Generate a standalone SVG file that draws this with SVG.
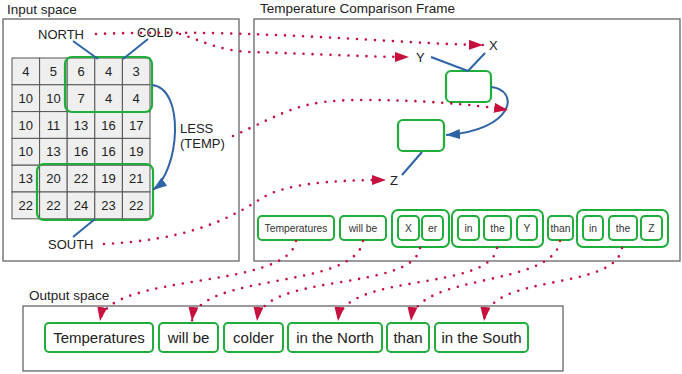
<svg xmlns="http://www.w3.org/2000/svg" width="682" height="374" viewBox="0 0 682 374">
<style>
text{font-family:"Liberation Sans",Arial,sans-serif;fill:#222}
.panel{fill:#fff;stroke:#666;stroke-width:1.3}
.title{font-size:13.5px}
.cell{fill:#efefef;stroke:#555;stroke-width:1}
.num{font-size:13px;text-anchor:middle}
.lbl{font-size:13px}
.grn{fill:none;stroke:#1fae3a;stroke-width:2.2}
.wbox{fill:#fff;stroke:#1fae3a;stroke-width:2}
.w{font-size:10.3px;text-anchor:middle;fill:#333}
.ow{font-size:15px;text-anchor:middle}
.blue{fill:none;stroke:#2e64a6;stroke-width:2}
.dot{fill:none;stroke:#c8103e;stroke-width:2.6;stroke-dasharray:0 9;stroke-linecap:round}
</style>
<defs>
<marker id="ra" viewBox="0 0 14 10" refX="14" refY="5" markerWidth="14" markerHeight="10" markerUnits="userSpaceOnUse" orient="auto"><path d="M0,0 L14,5 L0,10 z" fill="#c8103e"/></marker>
<marker id="ba" viewBox="0 0 14 10" refX="14" refY="5" markerWidth="14" markerHeight="10" markerUnits="userSpaceOnUse" orient="auto"><path d="M0,0 L14,5 L0,10 z" fill="#2e64a6"/></marker>
</defs>

<g id="input-space">
<rect class="panel" x="3" y="19" width="236" height="242"/>
<text class="title" x="7" y="14">Input space</text>
</g>
<g id="frame">
<rect class="panel" x="254" y="19" width="426" height="242"/>
<text class="title" x="260" y="13">Temperature Comparison Frame</text>
</g>
<g id="output-space">
<rect class="panel" x="23" y="306" width="540" height="65"/>
<text class="title" x="29" y="300">Output space</text>
</g>

<g id="grid">
<rect class="cell" x="12" y="58" width="27.6" height="26.8"/><rect class="cell" x="39.6" y="58" width="27.6" height="26.8"/><rect class="cell" x="67.2" y="58" width="27.6" height="26.8"/><rect class="cell" x="94.8" y="58" width="27.6" height="26.8"/><rect class="cell" x="122.4" y="58" width="27.6" height="26.8"/>
<rect class="cell" x="12" y="84.8" width="27.6" height="26.8"/><rect class="cell" x="39.6" y="84.8" width="27.6" height="26.8"/><rect class="cell" x="67.2" y="84.8" width="27.6" height="26.8"/><rect class="cell" x="94.8" y="84.8" width="27.6" height="26.8"/><rect class="cell" x="122.4" y="84.8" width="27.6" height="26.8"/>
<rect class="cell" x="12" y="111.6" width="27.6" height="26.8"/><rect class="cell" x="39.6" y="111.6" width="27.6" height="26.8"/><rect class="cell" x="67.2" y="111.6" width="27.6" height="26.8"/><rect class="cell" x="94.8" y="111.6" width="27.6" height="26.8"/><rect class="cell" x="122.4" y="111.6" width="27.6" height="26.8"/>
<rect class="cell" x="12" y="138.4" width="27.6" height="26.8"/><rect class="cell" x="39.6" y="138.4" width="27.6" height="26.8"/><rect class="cell" x="67.2" y="138.4" width="27.6" height="26.8"/><rect class="cell" x="94.8" y="138.4" width="27.6" height="26.8"/><rect class="cell" x="122.4" y="138.4" width="27.6" height="26.8"/>
<rect class="cell" x="12" y="165.2" width="27.6" height="26.8"/><rect class="cell" x="39.6" y="165.2" width="27.6" height="26.8"/><rect class="cell" x="67.2" y="165.2" width="27.6" height="26.8"/><rect class="cell" x="94.8" y="165.2" width="27.6" height="26.8"/><rect class="cell" x="122.4" y="165.2" width="27.6" height="26.8"/>
<rect class="cell" x="12" y="192" width="27.6" height="26.8"/><rect class="cell" x="39.6" y="192" width="27.6" height="26.8"/><rect class="cell" x="67.2" y="192" width="27.6" height="26.8"/><rect class="cell" x="94.8" y="192" width="27.6" height="26.8"/><rect class="cell" x="122.4" y="192" width="27.6" height="26.8"/>
<text class="num" x="25.8" y="76">4</text><text class="num" x="53.4" y="76">5</text><text class="num" x="81" y="76">6</text><text class="num" x="108.6" y="76">4</text><text class="num" x="136.2" y="76">3</text>
<text class="num" x="25.8" y="102.8">10</text><text class="num" x="53.4" y="102.8">10</text><text class="num" x="81" y="102.8">7</text><text class="num" x="108.6" y="102.8">4</text><text class="num" x="136.2" y="102.8">4</text>
<text class="num" x="25.8" y="129.6">10</text><text class="num" x="53.4" y="129.6">11</text><text class="num" x="81" y="129.6">13</text><text class="num" x="108.6" y="129.6">16</text><text class="num" x="136.2" y="129.6">17</text>
<text class="num" x="25.8" y="156.4">10</text><text class="num" x="53.4" y="156.4">13</text><text class="num" x="81" y="156.4">16</text><text class="num" x="108.6" y="156.4">16</text><text class="num" x="136.2" y="156.4">19</text>
<text class="num" x="25.8" y="183.2">13</text><text class="num" x="53.4" y="183.2">20</text><text class="num" x="81" y="183.2">22</text><text class="num" x="108.6" y="183.2">19</text><text class="num" x="136.2" y="183.2">21</text>
<text class="num" x="25.8" y="210">22</text><text class="num" x="53.4" y="210">22</text><text class="num" x="81" y="210">24</text><text class="num" x="108.6" y="210">23</text><text class="num" x="136.2" y="210">22</text>
</g>
<g id="north-region"><rect class="grn" x="65" y="57" width="87" height="55" rx="7"/></g>
<g id="south-region"><rect class="grn" x="37" y="164" width="116" height="56" rx="7"/></g>
<g id="label-north"><text class="lbl" x="38" y="39">NORTH</text></g>
<g id="label-cold"><text class="lbl" x="137" y="37">COLD</text></g>
<g id="label-south"><text class="lbl" x="48" y="249">SOUTH</text></g>
<g id="label-less"><text class="lbl" x="180" y="133">LESS</text><text class="lbl" x="180" y="148">(TEMP)</text></g>

<g id="frame-box-1"><rect class="grn" x="446" y="71" width="45" height="31" rx="5"/></g>
<g id="frame-box-2"><rect class="grn" x="398" y="120" width="46" height="31" rx="5"/></g>
<g id="label-x"><text class="lbl" x="489" y="50">X</text></g>
<g id="label-y"><text class="lbl" x="416" y="62">Y</text></g>
<g id="label-z"><text class="lbl" x="390" y="185">Z</text></g>

<g id="w-temperatures"><rect class="wbox" x="258" y="216" width="76" height="24" rx="4"/><text class="w" x="296" y="232">Temperatures</text></g>
<g id="w-willbe"><rect class="wbox" x="340" y="216" width="46" height="24" rx="4"/><text class="w" x="363" y="232">will be</text></g>
<g id="w-xer"><rect class="wbox" x="392" y="210" width="57" height="37" rx="6"/>
<rect class="wbox" x="398" y="216" width="21" height="24" rx="4"/><text class="w" x="408.5" y="232">X</text>
<rect class="wbox" x="422" y="216" width="21" height="24" rx="4"/><text class="w" x="432.5" y="232">er</text></g>
<g id="w-intheY"><rect class="wbox" x="452" y="210" width="91" height="37" rx="6"/>
<rect class="wbox" x="458" y="216" width="21" height="24" rx="4"/><text class="w" x="468.5" y="232">in</text>
<rect class="wbox" x="484" y="216" width="27" height="24" rx="4"/><text class="w" x="497.5" y="232">the</text>
<rect class="wbox" x="517" y="216" width="20" height="24" rx="4"/><text class="w" x="527" y="232">Y</text></g>
<g id="w-than"><rect class="wbox" x="548" y="216" width="25" height="24" rx="4"/><text class="w" x="560.5" y="232">than</text></g>
<g id="w-intheZ"><rect class="wbox" x="577" y="210" width="91" height="37" rx="6"/>
<rect class="wbox" x="583" y="216" width="20" height="24" rx="4"/><text class="w" x="593" y="232">in</text>
<rect class="wbox" x="609" y="216" width="28" height="24" rx="4"/><text class="w" x="623" y="232">the</text>
<rect class="wbox" x="641" y="216" width="21" height="24" rx="4"/><text class="w" x="651.5" y="232">Z</text></g>

<g id="o-temperatures"><rect class="wbox" x="45" y="323" width="108" height="29" rx="4"/><text class="ow" x="99" y="343">Temperatures</text></g>
<g id="o-willbe"><rect class="wbox" x="159" y="323" width="59" height="29" rx="4"/><text class="ow" x="188.5" y="343">will be</text></g>
<g id="o-colder"><rect class="wbox" x="224" y="323" width="59" height="29" rx="4"/><text class="ow" x="253.5" y="343">colder</text></g>
<g id="o-inthenorth"><rect class="wbox" x="288" y="323" width="94" height="29" rx="4"/><text class="ow" x="335" y="343">in the North</text></g>
<g id="o-than"><rect class="wbox" x="387" y="323" width="42" height="29" rx="4"/><text class="ow" x="408" y="343">than</text></g>
<g id="o-inthesouth"><rect class="wbox" x="435" y="323" width="93" height="29" rx="4"/><text class="ow" x="481.5" y="343">in the South</text></g>

<g id="connectors">
<line class="blue" x1="73" y1="41" x2="98" y2="59"/>
<line class="blue" x1="148" y1="39" x2="123" y2="59"/>
<line class="blue" x1="73" y1="237" x2="95" y2="219"/>
<path class="blue" d="M152,85 C185,88 180,170 153,190" marker-end="url(#ba)"/>
<line class="blue" x1="431" y1="57" x2="468" y2="71"/>
<line class="blue" x1="485" y1="53" x2="468" y2="71"/>
<line class="blue" x1="422" y1="152" x2="402" y2="175"/>
<path class="blue" d="M491,87 C520,90 515,130 446,135" marker-end="url(#ba)"/>

<path class="dot" d="M96,34 C250,28 400,44 483,45" marker-end="url(#ra)"/>
<path class="dot" d="M180,34 C200,40 220,51 250,52 C320,54 370,57 409,57" marker-end="url(#ra)"/>
<path class="dot" d="M233,136 C290,110 300,100 363,100 C420,100 470,104 508,110" marker-end="url(#ra)"/>
<path class="dot" d="M104,244 C180,240 222,224 262,198 C285,184 330,180 386,180" marker-end="url(#ra)"/>

<path class="dot" d="M296,241 C288,290 108,272 100,321" marker-end="url(#ra)"/>
<path class="dot" d="M363,241 C355,290 197,272 192,321" marker-end="url(#ra)"/>
<path class="dot" d="M420,248 C412,292 262,272 257,321" marker-end="url(#ra)"/>
<path class="dot" d="M497,248 C490,292 343,272 338,321" marker-end="url(#ra)"/>
<path class="dot" d="M560,241 C553,288 416,272 411,321" marker-end="url(#ra)"/>
<path class="dot" d="M622,248 C615,292 489,272 484,321" marker-end="url(#ra)"/>
</g>
</svg>
